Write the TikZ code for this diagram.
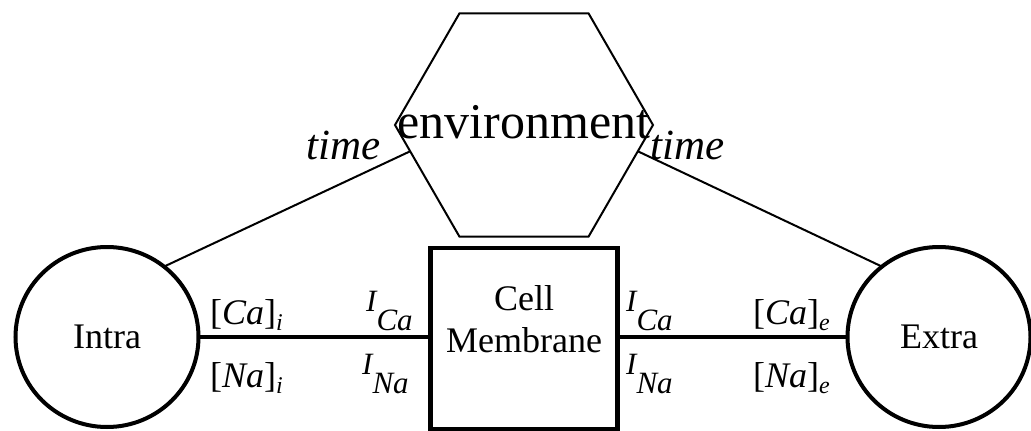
\documentclass[tikz,border=0pt]{standalone}
\usepackage{fontspec}
\setmainfont{Liberation Serif}
\usetikzlibrary{shapes.geometric}
% concentration subscript and current symbol
\newcommand\ionsub[1]{\raisebox{-6pt}{\fontsize{24}{24}\selectfont\itshape #1}}
\newcommand\currI[1]{I\raisebox{-19pt}{#1}}
\begin{document}
\begin{tikzpicture}[x=1pt,y=-1pt,
  compartment/.style={ellipse, draw, line width=4pt, minimum width=183pt, minimum height=180pt, inner sep=0pt, outer sep=0pt, font=\fontsize{36}{40}\selectfont},
  membranebox/.style={rectangle, draw, line width=4.5pt, minimum width=187pt, minimum height=181pt, inner sep=0pt, outer sep=0pt},
  hexnode/.style={regular polygon, regular polygon sides=6, draw, line width=2pt, minimum size=258pt, inner sep=0pt, outer sep=0pt},
  flux/.style={line width=4.5pt},
  link/.style={line width=2pt},
  conc/.style={inner sep=0pt, anchor=base west, font=\fontsize{36}{40}\selectfont},
  curr/.style={inner sep=0pt, anchor=base west, font=\fontsize{31}{31}\selectfont\itshape},
  timelabel/.style={inner sep=0pt, anchor=base, font=\fontsize{43}{43}\selectfont\itshape}
]
\useasboundingbox[fill=white] (0,0) rectangle (1031,431);

% compartments and membrane
\node[compartment] (intra) at (107,337) {Intra};
\node[compartment] (extra) at (939,337) {Extra};
\node[membranebox] (cell) at (524,338.5) {};
\node[inner sep=0pt, align=center, anchor=base, font=\fontsize{36}{42}\selectfont] (celltext) at (524,352) {Cell\\Membrane};

% environment hexagon
\node[hexnode] (env) at (524,125) {};
\node[inner sep=0pt, anchor=base, font=\fontsize{50}{50}\selectfont] (envtext) at (524,138) {environment};

% connectors
\draw[flux] (intra.east) -- (intra.east -| cell.west);
\draw[flux] (extra.west) -- (extra.west -| cell.east);
\draw[link] (env.193.5) -- (intra.51);
\draw[link] (env.-13.8) -- (extra.129);

% time labels
\node[timelabel] (tleft) at (344,159) {time};
\node[timelabel] (tright) at (688,159) {time};

% concentrations
\node[conc] (cai) at (210,324) {[\textit{Ca}]\ionsub{i}};
\node[conc] (nai) at (210,387) {[\textit{Na}]\ionsub{i}};
\node[conc] (cae) at (753,324) {[\textit{Ca}]\ionsub{e}};
\node[conc] (nae) at (753,387) {[\textit{Na}]\ionsub{e}};

% currents
\node[curr] (icaL) at (366,311) {\currI{Ca}};
\node[curr] (inaL) at (362,374) {\currI{Na}};
\node[curr] (icaR) at (626,311) {\currI{Ca}};
\node[curr] (inaR) at (626,374) {\currI{Na}};
\end{tikzpicture}
\end{document}
